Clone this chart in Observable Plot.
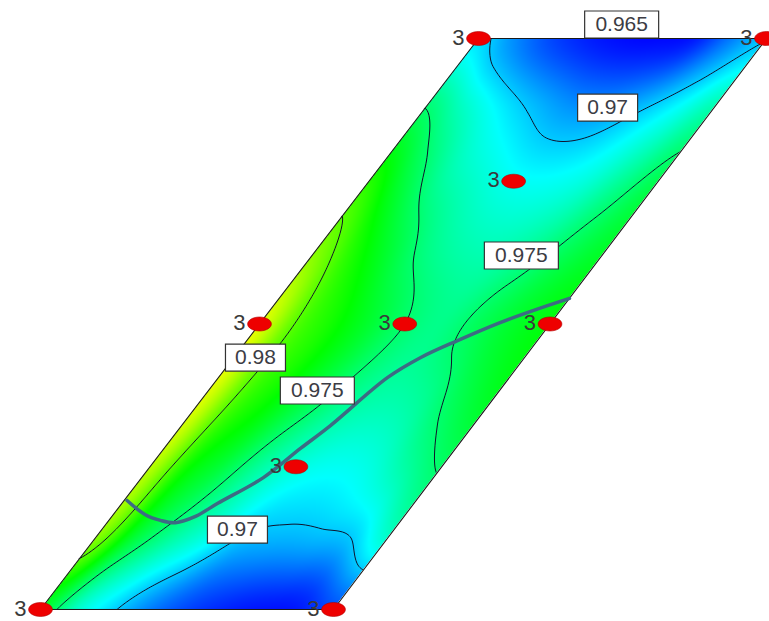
<!DOCTYPE html>
<html>
<head>
<meta charset="utf-8">
<script src="https://cdn.jsdelivr.net/npm/d3@7"></script>
<script src="https://cdn.jsdelivr.net/npm/@observablehq/plot@0.6"></script>
<style>
html,body{margin:0;padding:0;background:#fff;overflow:hidden;}
</style>
</head>
<body>
<div id="chart"></div>
<script>
// ---- Design region corners (plot units) ----
const cornerBL = [0, 0];
const cornerBR = [1, 0];
const cornerTL = [1.4949, 1];
const cornerTR = [2.4778, 1];

// ---- Response surface, on a grid of design coordinates (u across, v up) ----
const gridU = [0, 0.125, 0.25, 0.375, 0.5, 0.625, 0.75, 0.875, 1];
const gridV = [0, 0.125, 0.25, 0.375, 0.5, 0.625, 0.75, 0.875, 1];
const response = [
  [0.9766, 0.9726, 0.9702, 0.9681, 0.9667, 0.9659, 0.9655, 0.9656, 0.9670], // v = 0
  [0.9812, 0.9766, 0.9739, 0.9720, 0.9699, 0.9695, 0.9696, 0.9700, 0.9726], // v = 0.125
  [0.9825, 0.9782, 0.9762, 0.9738, 0.9722, 0.9716, 0.9720, 0.9736, 0.9752], // v = 0.25
  [0.9834, 0.9796, 0.9778, 0.9759, 0.9742, 0.9735, 0.9740, 0.9757, 0.9770], // v = 0.375
  [0.9835, 0.9799, 0.9782, 0.9766, 0.9750, 0.9743, 0.9755, 0.9767, 0.9775], // v = 0.5
  [0.9812, 0.9787, 0.9766, 0.9746, 0.9735, 0.9733, 0.9742, 0.9757, 0.9768], // v = 0.625
  [0.9787, 0.9762, 0.9738, 0.9725, 0.9716, 0.9715, 0.9722, 0.9740, 0.9758], // v = 0.75
  [0.9751, 0.9730, 0.9712, 0.9698, 0.9688, 0.9688, 0.9699, 0.9715, 0.9735], // v = 0.875
  [0.9706, 0.9685, 0.9668, 0.9658, 0.9653, 0.9652, 0.9656, 0.9680, 0.9699]  // v = 1
];
const contourLevels = [0.965, 0.97, 0.975, 0.98];

// ---- Design points (replicate counts) ----
const designU = [0, 1, 0, 1, 0, 0.5, 1, 0.5, 0.5];
const designV = [0, 0, 1, 1, 0.5, 0.5, 0.5, 0.75, 0.25];
const designRuns = [3, 3, 3, 3, 3, 3, 3, 3, 3];

// ---- Overlay curve ----
const curveU = [0.01, 0.110, 0.177, 0.234, 0.286, 0.328, 0.417, 0.468, 0.511, 0.581, 0.642, 0.725, 0.826, 0.908, 1.0];
const curveV = [0.191, 0.166, 0.156, 0.152, 0.163, 0.186, 0.231, 0.282, 0.322, 0.406, 0.441, 0.471, 0.503, 0.524, 0.545];

// ---- Contour labels ----
const labelText = ["0.965", "0.97", "0.975", "0.98", "0.975", "0.97"];
const labelU = [0.460, 0.631, 0.722, 0.075, 0.374, 0.464];
const labelV = [1.0245, 0.879, 0.620, 0.441, 0.3835, 0.140];

// ---- geometry helpers ----
function toXY(u, v) {
  const L = cornerBL[0] + (cornerTL[0] - cornerBL[0]) * v;
  const R = cornerBR[0] + (cornerTR[0] - cornerBR[0]) * v;
  return [L + (R - L) * u, cornerBL[1] + (cornerTL[1] - cornerBL[1]) * v];
}
function toUV(x, y) {
  const v = (y - cornerBL[1]) / (cornerTL[1] - cornerBL[1]);
  const L = cornerBL[0] + (cornerTL[0] - cornerBL[0]) * v;
  const R = cornerBR[0] + (cornerTR[0] - cornerBR[0]) * v;
  return [(x - L) / (R - L), v];
}
function cr(p0, p1, p2, p3, t) {
  return p1 + 0.5 * t * (p2 - p0 + t * (2 * p0 - 5 * p1 + 4 * p2 - p3 + t * (3 * (p1 - p2) + p3 - p0)));
}
function surface(u, v) {
  const n = gridU.length - 1, m = gridV.length - 1;
  u = Math.max(0, Math.min(1, u)); v = Math.max(0, Math.min(1, v));
  const gx = u * n, gy = v * m;
  const i = Math.min(n - 1, Math.floor(gx)), j = Math.min(m - 1, Math.floor(gy));
  const tx = gx - i, ty = gy - j;
  const row = (jj) => {
    const r = response[Math.max(0, Math.min(m, jj))];
    const c = (ii) => r[Math.max(0, Math.min(n, ii))];
    return cr(c(i - 1), c(i), c(i + 1), c(i + 2), tx);
  };
  return cr(row(j - 1), row(j), row(j + 1), row(j + 2), ty);
}
const eps = 1e-9;
const fieldXY = (x, y) => { const [u, v] = toUV(x, y); return surface(u, v); };
const fieldInside = (x, y) => {
  const [u, v] = toUV(x, y);
  return (u < -eps || u > 1 + eps || v < -eps || v > 1 + eps) ? NaN : surface(u, v);
};

const designPts = designU.map((u, i) => { const [x, y] = toXY(u, designV[i]); return {x, y, runs: designRuns[i]}; });
const curvePts = curveU.map((u, i) => { const [x, y] = toXY(u, curveV[i]); return {x, y}; });
const labelPts = labelText.map((t, i) => { const [x, y] = toXY(labelU[i], labelV[i]); return {x, y, text: t}; });
const boundary = [cornerBL, cornerBR, cornerTR, cornerTL, cornerBL].map(([x, y]) => ({x, y}));

const xDomain = [-0.13652, 2.48805];
const yDomain = [-0.02102, 1.06655];
const xMax = Math.max(cornerTR[0], cornerBR[0]);

// white masks outside the left and right edges (edges extended over the full frame height)
const edgeX = (a, b, y) => a[0] + (b[0] - a[0]) * (y - a[1]) / (b[1] - a[1]);
const leftMask = yDomain.map((y) => ({y, x1: xDomain[0], x2: edgeX(cornerBL, cornerTL, y)}));
const rightMask = yDomain.map((y) => ({y, x1: edgeX(cornerBR, cornerTR, y), x2: xDomain[1]}));

function ellipseSymbol(ratio) {
  return {draw(ctx, size) {
    const r = Math.sqrt(size / Math.PI), a = r * ratio, b = r, k = 0.5523;
    ctx.moveTo(a, 0);
    ctx.bezierCurveTo(a, k * b, k * a, b, 0, b);
    ctx.bezierCurveTo(-k * a, b, -a, k * b, -a, 0);
    ctx.bezierCurveTo(-a, -k * b, -k * a, -b, 0, -b);
    ctx.bezierCurveTo(k * a, -b, a, -k * b, a, 0);
    ctx.closePath();
  }};
}
function boxSymbol(w, h) {
  return {draw(ctx) { ctx.rect(-w / 2, -h / 2, w, h); }};
}

const font = "'Liberation Sans', Arial, sans-serif";

const plot = Plot.plot({
  width: 769,
  height: 621,
  margin: 0,
  style: {background: "#fff", fontFamily: font},
  x: {domain: xDomain, axis: null},
  y: {domain: yDomain, axis: null},
  color: {
    type: "linear",
    domain: [0.9650, 0.9713, 0.9778, 0.9842, 0.991],
    range: ["#0000ff", "#00ffff", "#00ff00", "#ffff00", "#ff0000"],
    interpolate: "rgb"
  },
  marks: [
    Plot.raster({fill: fieldInside, x1: cornerBL[0], x2: xMax, y1: cornerBL[1], y2: cornerTL[1], pixelSize: 1}),
    Plot.contour({value: fieldXY, x1: cornerBL[0], x2: xMax, y1: cornerBL[1], y2: cornerTL[1],
      thresholds: contourLevels, stroke: "#10102a", strokeWidth: 1, fill: "none", pixelSize: 1}),
    Plot.areaX(leftMask, {y: "y", x1: "x1", x2: "x2", fill: "white"}),
    Plot.areaX(rightMask, {y: "y", x1: "x1", x2: "x2", fill: "white"}),
    Plot.line(boundary, {x: "x", y: "y", stroke: "#1a1a1a", strokeWidth: 1.1}),
    Plot.line(curvePts, {x: "x", y: "y", stroke: "#3d6b84", strokeWidth: 3.5, curve: "catmull-rom"}),
    Plot.dot(designPts, {x: "x", y: "y", r: 7, symbol: ellipseSymbol(1.7), fill: "#ee0000", stroke: "#b00000", strokeWidth: 0.6}),
    Plot.text(designPts, {x: "x", y: "y", text: (d) => String(d.runs), textAnchor: "end", dx: -14, dy: -1,
      fontSize: 22, fill: "#3a3a3a", fontFamily: font}),
    Plot.dot(labelPts.filter((d) => d.text.length === 5), {x: "x", y: "y", r: 5, symbol: boxSymbol(74, 27), fill: "white", stroke: "#333", strokeWidth: 1.2}),
    Plot.dot(labelPts.filter((d) => d.text.length === 4), {x: "x", y: "y", r: 5, symbol: boxSymbol(60, 27), fill: "white", stroke: "#333", strokeWidth: 1.2}),
    Plot.text(labelPts, {x: "x", y: "y", text: "text", fontSize: 21, fill: "#3c3c44", fontFamily: font})
  ]
});
document.getElementById("chart").appendChild(plot);
</script>
</body>
</html>
